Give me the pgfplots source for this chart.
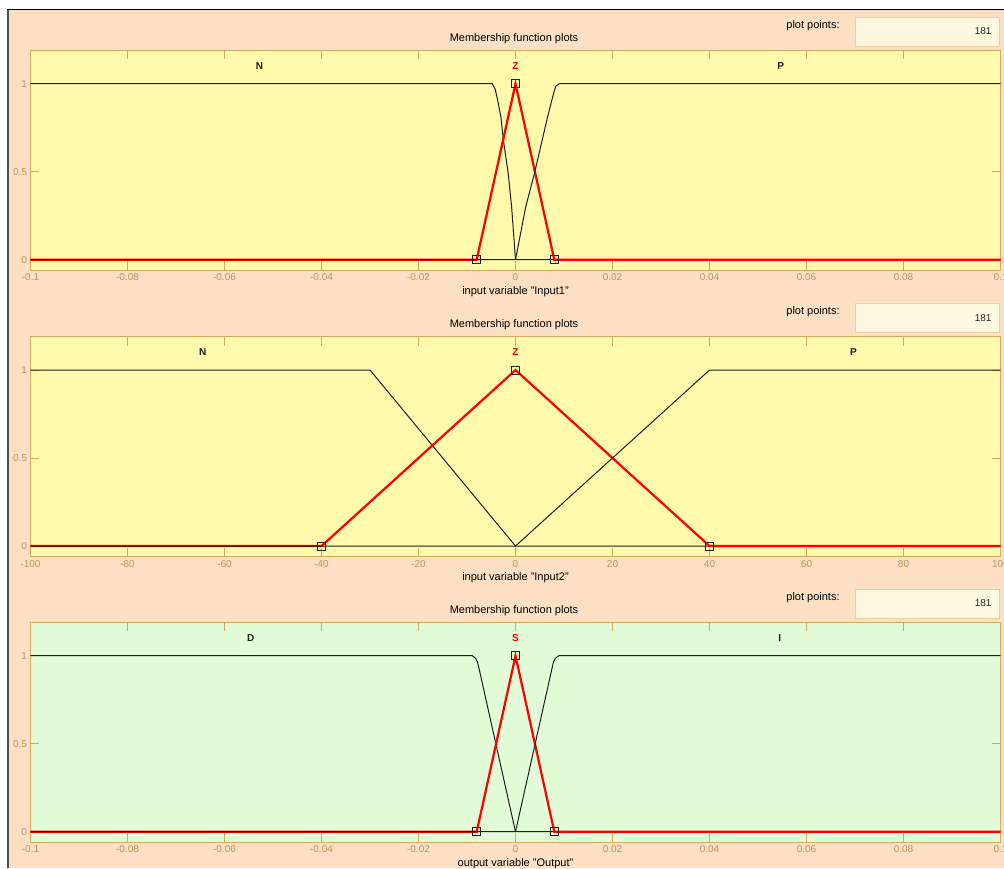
\documentclass[border=0pt]{standalone}
\usepackage{fontspec}
\setmainfont{Liberation Sans}
\usepackage{pgfplots}
\pgfplotsset{compat=1.18}
\definecolor{peach}{RGB}{253,224,196}
\definecolor{plotyellow}{RGB}{255,250,172}
\definecolor{plotgreen}{RGB}{225,252,215}
\definecolor{axtan}{RGB}{212,170,96}
\definecolor{ticktxt}{RGB}{188,148,92}
\definecolor{boxfill}{RGB}{255,248,224}
\definecolor{boxedge}{RGB}{236,206,160}
\definecolor{mfblack}{RGB}{30,30,30}

\tikzset{lab/.style={font=\fontsize{10}{12}\selectfont\bfseries}}
\pgfplotsset{
  mfaxis/.style={
    at={#1}, anchor=south west, scale only axis,
    width=970pt, height=220pt,
    ymin=-0.06, ymax=1.19, ytick={0,0.5,1}, yticklabels={0,0.5,1},
    axis line style={axtan, line width=1pt},
    tick style={axtan, line width=0.8pt},
    tick align=inside, tick pos=both, major tick length=9pt,
    ticklabel style={text=ticktxt, font=\fontsize{10}{12}\selectfont},
    /pgf/number format/assume math mode=true,
    scaled ticks=false,
    xlabel style={at={(axis description cs:0.5,0)}, anchor=center, yshift=-21pt,
      font=\fontsize{11}{13}\selectfont},
  },
  blk/.style={mfblack, line width=1pt},
  rd/.style={red, line width=2.2pt},
  sq/.style={only marks, mark=square, mark size=4pt, mark options={mfblack, line width=0.8pt}},
}

\newcommand\panelhead[1]{%
  \node[font=\fontsize{11}{13}\selectfont] at (514pt,{#1pt+12pt}) {Membership function plots};
  \node[font=\fontsize{11}{13}\selectfont] at (813pt,{#1pt+25pt}) {plot points:};
  \draw[boxedge, fill=boxfill, line width=1pt] (855pt,{#1pt+4pt}) rectangle (999pt,{#1pt+33pt});
  \node[anchor=east, font=\fontsize{10}{12}\selectfont, text=black!85] at (995pt,{#1pt+19pt}) {181};
}

\begin{document}
\begin{tikzpicture}[x=1pt,y=1pt]
\useasboundingbox (0,0) rectangle (1004,868);
\fill[white] (0,0) rectangle (1004,868);
\fill[peach] (8,0) rectangle (1004,858);
\draw[black!70, line width=2pt] (8,0) -- (8,858);
\draw[black, line width=1pt] (7,858) -- (1004,858);

\panelhead{817.7}
\panelhead{531.4}
\panelhead{245.7}

% ---------- Panel 1 ----------
\begin{axis}[mfaxis={(30.5pt,597.7pt)},
  axis background/.style={fill=plotyellow},
  xmin=-0.1, xmax=0.1,
  xtick={-0.1,-0.08,-0.06,-0.04,-0.02,0,0.02,0.04,0.06,0.08,0.1},
  xticklabels={-0.1,-0.08,-0.06,-0.04,-0.02,0,0.02,0.04,0.06,0.08,0.1},
  xlabel={input variable "Input1"}]
\addplot[blk] coordinates {(-0.1,1) (-0.0048,1) (-0.0042,0.97) (-0.0037,0.91) (-0.0030,0.81) (-0.0025,0.68) (-0.0015,0.49) (-0.0008,0.30) (0,0) (0.1,0)};
\addplot[rd] coordinates {(-0.1,0) (-0.008,0) (0,1) (0.008,0) (0.1,0)};
\addplot[blk] coordinates {(-0.1,0) (0,0) (0.0021,0.30) (0.0039,0.49) (0.0066,0.81) (0.0079,0.95) (0.0083,0.985) (0.009,1) (0.1,1)};
\addplot[sq] coordinates {(-0.008,0) (0,1) (0.008,0)};
\node[lab, text=mfblack] at (axis cs:-0.0528,1.10) {N};
\node[lab, text=red] at (axis cs:0,1.10) {Z};
\node[lab, text=mfblack] at (axis cs:0.0547,1.10) {P};
\end{axis}

% ---------- Panel 2 ----------
\begin{axis}[mfaxis={(30.5pt,311.4pt)},
  axis background/.style={fill=plotyellow},
  xmin=-100, xmax=100,
  xtick={-100,-80,-60,-40,-20,0,20,40,60,80,100},
  xticklabels={-100,-80,-60,-40,-20,0,20,40,60,80,100},
  xlabel={input variable "Input2"}]
\addplot[blk] coordinates {(-100,1) (-30,1) (0,0) (100,0)};
\addplot[rd] coordinates {(-100,0) (-40,0) (0,1) (40,0) (100,0)};
\addplot[blk] coordinates {(-100,0) (0,0) (40,1) (100,1)};
\addplot[sq] coordinates {(-40,0) (0,1) (40,0)};
\node[lab, text=mfblack] at (axis cs:-64.5,1.10) {N};
\node[lab, text=red] at (axis cs:0,1.10) {Z};
\node[lab, text=mfblack] at (axis cs:69.7,1.10) {P};
\end{axis}

% ---------- Panel 3 ----------
\begin{axis}[mfaxis={(30.5pt,25.7pt)},
  axis background/.style={fill=plotgreen},
  xmin=-0.1, xmax=0.1,
  xtick={-0.1,-0.08,-0.06,-0.04,-0.02,0,0.02,0.04,0.06,0.08,0.1},
  xticklabels={-0.1,-0.08,-0.06,-0.04,-0.02,0,0.02,0.04,0.06,0.08,0.1},
  xlabel={output variable "Output"}]
\addplot[blk] coordinates {(-0.1,1) (-0.0089,1) (-0.0082,0.985) (-0.0078,0.962) (0,0) (0.1,0)};
\addplot[rd] coordinates {(-0.1,0) (-0.008,0) (0,1) (0.008,0) (0.1,0)};
\addplot[blk] coordinates {(-0.1,0) (0,0) (0.0078,0.962) (0.0082,0.985) (0.0089,1) (0.1,1)};
\addplot[sq] coordinates {(-0.008,0) (0,1) (0.008,0)};
\node[lab, text=mfblack] at (axis cs:-0.0546,1.10) {D};
\node[lab, text=red] at (axis cs:0,1.10) {S};
\node[lab, text=mfblack] at (axis cs:0.0545,1.10) {I};
\end{axis}
\end{tikzpicture}
\end{document}
